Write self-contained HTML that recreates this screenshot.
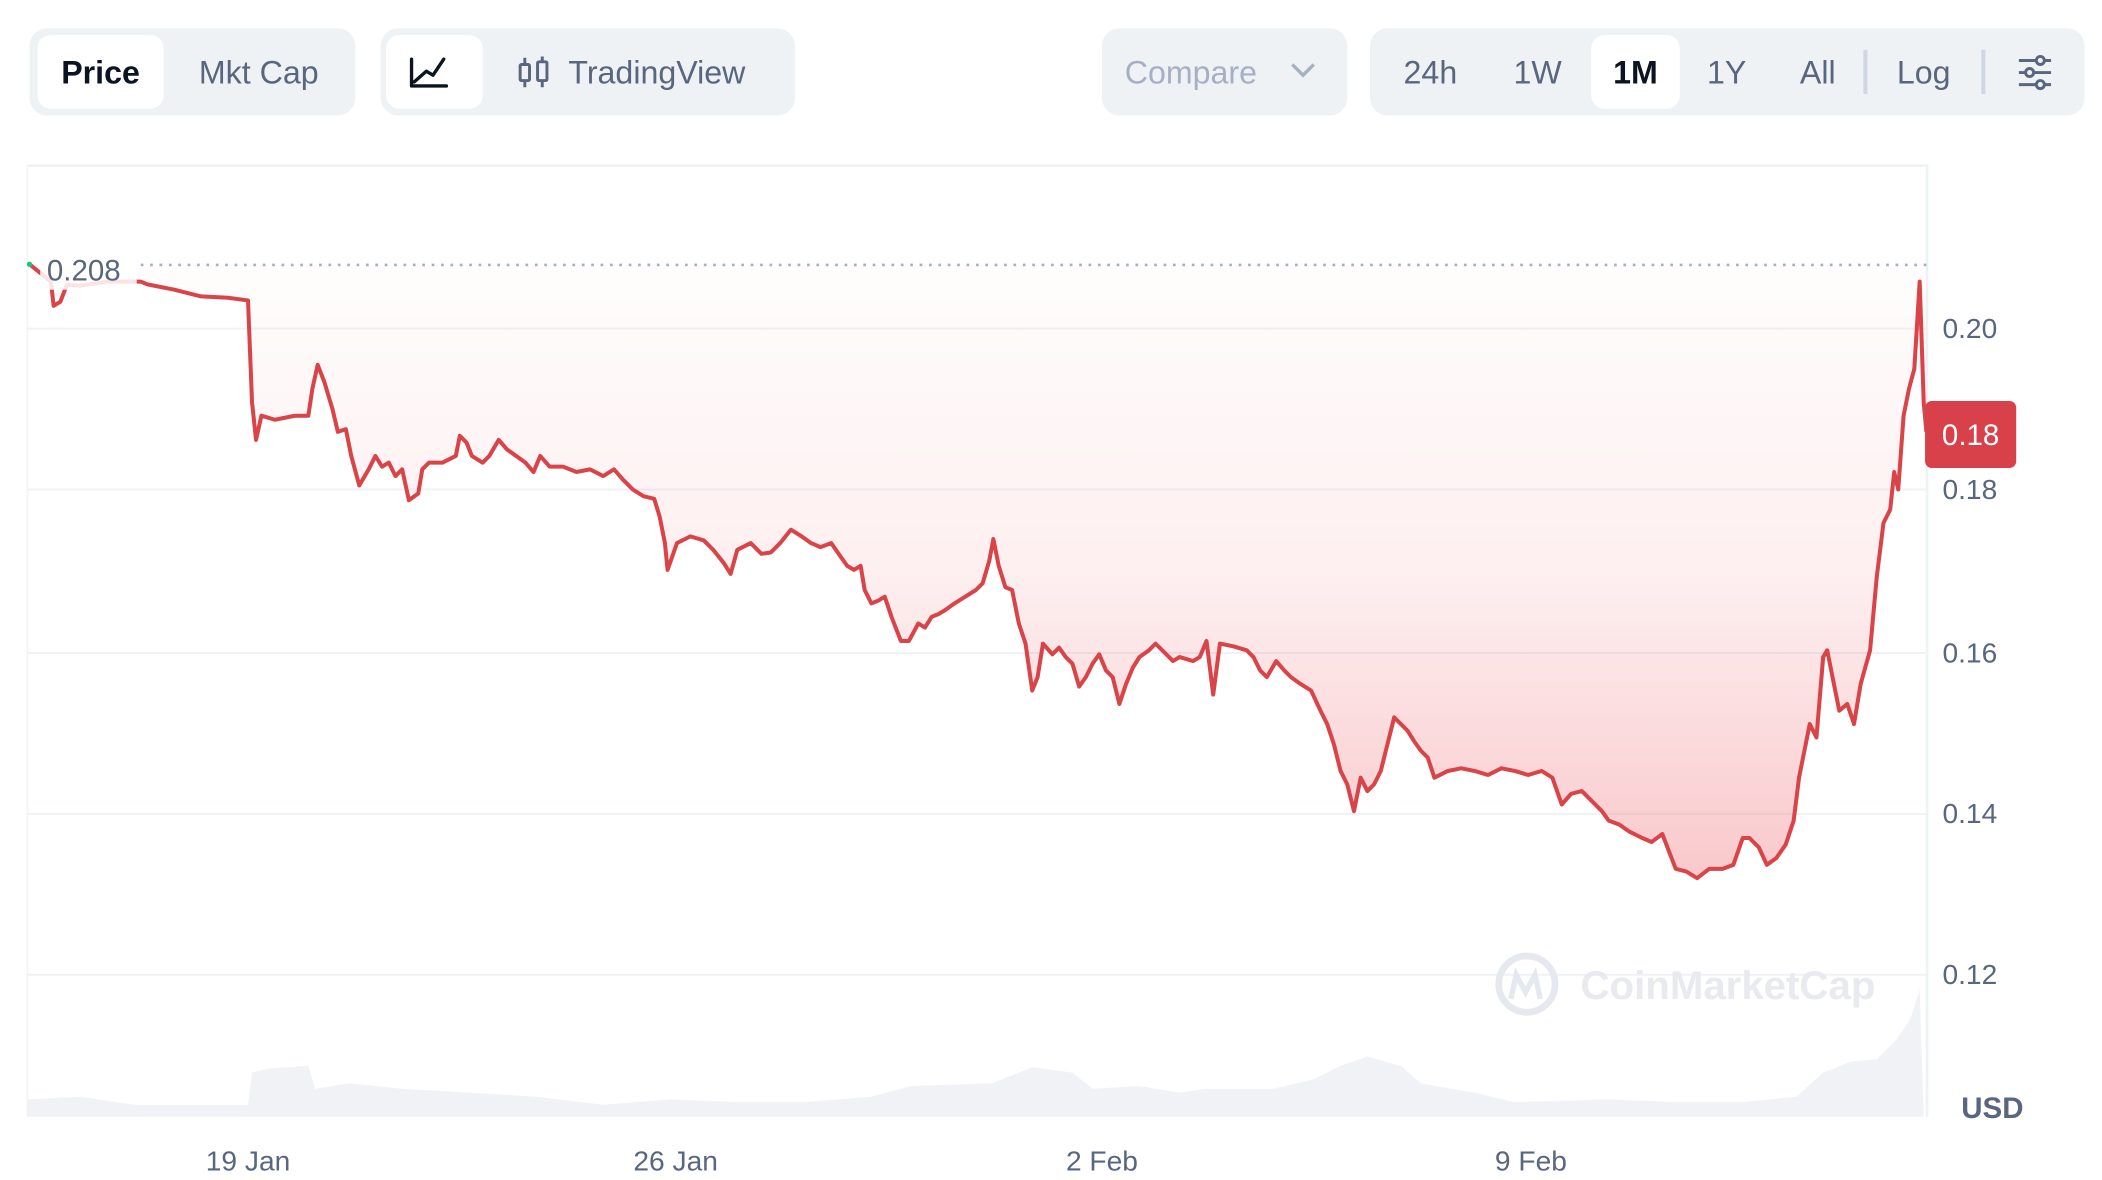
<!DOCTYPE html>
<html><head><meta charset="utf-8"><style>
html,body{margin:0;padding:0;background:#fff;}
svg{display:block;}
text{font-family:"Liberation Sans",sans-serif;}
</style></head><body>
<svg width="2102" height="1180" viewBox="0 0 1568 880" xmlns="http://www.w3.org/2000/svg">
<defs>
<linearGradient id="fill" gradientUnits="userSpaceOnUse" x1="0" y1="197" x2="0" y2="660">
<stop offset="0" stop-color="#ea3943" stop-opacity="0.01"/>
<stop offset="0.5" stop-color="#ea3943" stop-opacity="0.08"/>
<stop offset="1" stop-color="#ea3943" stop-opacity="0.28"/>
</linearGradient>
</defs>
<!-- controls -->
<rect x="22" y="21" width="243" height="65" rx="13" fill="#eff2f5"/>
<rect x="28" y="26" width="94" height="55" rx="10" fill="#fff"/>
<text x="75" y="62" font-size="24" font-weight="bold" fill="#0d1421" text-anchor="middle">Price</text>
<text x="193" y="62" font-size="24" fill="#58667e" text-anchor="middle">Mkt Cap</text>
<rect x="284" y="21" width="309" height="65" rx="13" fill="#eff2f5"/>
<rect x="288" y="26" width="72" height="55" rx="10" fill="#fff"/>
<path d="M307 44 V64 H333 M309 61 L318 53 L323 56 L331 44" stroke="#0d1421" stroke-width="2.5" fill="none" stroke-linecap="round" stroke-linejoin="round"/>
<g stroke="#58667e" stroke-width="2.2" fill="none"><rect x="388" y="48" width="7" height="12" rx="1"/><path d="M391.5 43v5M391.5 60v5"/><rect x="401" y="46" width="7" height="14" rx="1"/><path d="M404.5 42v4M404.5 60v5"/></g>
<text x="424" y="62" font-size="24" fill="#58667e">TradingView</text>
<rect x="822" y="21" width="183" height="65" rx="13" fill="#eff2f5"/>
<text x="839" y="62" font-size="24" fill="#a6b0c3">Compare</text>
<path d="M964 48 L972 56 L980 48" stroke="#a6b0c3" stroke-width="2.5" fill="none"/>
<rect x="1022" y="21" width="533" height="65" rx="13" fill="#eff2f5"/>
<rect x="1187" y="26" width="66" height="55" rx="10" fill="#fff"/>
<g font-size="24" fill="#58667e" text-anchor="middle">
<text x="1067" y="62">24h</text><text x="1147" y="62">1W</text>
<text x="1220" y="62" font-weight="bold" fill="#0d1421">1M</text>
<text x="1288" y="62">1Y</text><text x="1356" y="62">All</text><text x="1435" y="62">Log</text></g>
<rect x="1390" y="37" width="3" height="33" fill="#cfd6e4"/>
<rect x="1478" y="37" width="3" height="33" fill="#cfd6e4"/>
<g stroke="#58667e" stroke-width="2.2" fill="#eff2f5"><path d="M1506 45h24M1506 54h24M1506 63h24"/><circle cx="1522" cy="45" r="3"/><circle cx="1514" cy="54" r="3"/><circle cx="1522" cy="63" r="3"/></g>
<!-- frame -->
<path d="M20 123.5 H1437.5 V833" stroke="#eff2f5" stroke-width="2" fill="none"/>
<path d="M20.5 123 V833" stroke="#f4f5f7" stroke-width="1.5"/>
<g stroke="#eff2f5" stroke-width="1.5"><path d="M20 245H1437M20 365H1437M20 487H1437M20 607H1437M20 727H1437"/></g>
<g font-size="21" fill="#58667e"><text x="1449" y="252">0.20</text><text x="1449" y="372">0.18</text><text x="1449" y="494">0.16</text><text x="1449" y="614">0.14</text><text x="1449" y="734">0.12</text></g>
<text x="1463" y="834" font-size="22" font-weight="bold" fill="#58667e">USD</text>
<g font-size="21" fill="#58667e" text-anchor="middle"><text x="185" y="873">19 Jan</text><text x="504" y="873">26 Jan</text><text x="822" y="873">2 Feb</text><text x="1142" y="873">9 Feb</text></g>
<!-- volume -->
<path d="M20 833 L20 820 L60 818 L100 824 L150 824 L185 824 L188 800 L200 797 L230 795 L235 812 L260 808 L300 812 L350 815 L400 818 L450 824 L500 820 L550 822 L600 822 L650 818 L680 810 L740 808 L770 796 L800 800 L815 812 L850 810 L880 815 L900 812 L950 812 L980 805 L1000 795 L1020 788 L1045 795 L1060 808 L1100 815 L1130 822 L1200 820 L1250 822 L1300 822 L1340 818 L1360 800 L1380 792 L1400 790 L1415 775 L1425 760 L1432 738 L1435 833 Z" fill="#f1f2f5"/>
<!-- watermark -->
<circle cx="1139" cy="734" r="21" fill="none" stroke="#e6e8ef" stroke-width="5"/>
<path d="M1127 745 L1131 727 L1138 740 L1145 727 L1149 745" stroke="#e6e8ef" stroke-width="4" fill="none"/>
<text x="1179" y="745" font-size="30" font-weight="bold" fill="#e8eaf0">CoinMarketCap</text>
<!-- price -->
<path d="M22 197 L38 210 L40 228 L45 225 L50 212 L60 213 L80 210 L105 210 L110 212 L130 216 L150 221 L170 222 L185 224 L188 300 L191 328 L195 310 L205 313 L220 310 L230 310 L233 290 L237 272 L242 285 L248 305 L252 322 L258 320 L262 340 L268 362 L275 350 L280 340 L285 348 L290 345 L295 355 L300 350 L305 373 L312 368 L315 350 L320 345 L330 345 L340 340 L343 325 L348 330 L352 340 L360 345 L365 340 L372 328 L378 335 L385 340 L392 345 L398 352 L403 340 L410 348 L420 348 L430 352 L440 350 L450 355 L458 350 L465 358 L472 365 L480 370 L488 372 L492 385 L496 405 L498 425 L505 405 L515 400 L525 403 L532 410 L540 420 L545 428 L550 410 L560 405 L568 413 L575 412 L582 405 L590 395 L598 400 L605 405 L612 408 L620 405 L627 415 L632 422 L637 425 L642 422 L645 440 L650 450 L655 448 L660 445 L665 460 L672 478 L678 478 L685 465 L690 468 L695 460 L700 458 L705 455 L712 450 L720 445 L728 440 L733 435 L738 418 L741 402 L745 422 L750 438 L755 440 L760 465 L765 480 L770 515 L774 505 L778 480 L785 488 L790 483 L795 490 L800 495 L805 512 L810 505 L815 495 L820 488 L825 500 L830 505 L835 525 L840 510 L845 498 L850 490 L857 485 L862 480 L870 488 L875 493 L880 490 L890 493 L895 490 L900 478 L905 518 L910 480 L920 482 L930 485 L935 490 L940 500 L945 505 L952 493 L958 500 L963 505 L970 510 L978 515 L985 530 L990 540 L995 555 L1000 575 L1005 585 L1010 605 L1015 580 L1020 590 L1025 585 L1030 575 L1035 555 L1040 535 L1045 540 L1050 545 L1055 553 L1060 560 L1065 565 L1070 580 L1080 575 L1090 573 L1100 575 L1110 578 L1120 573 L1130 575 L1140 578 L1150 575 L1158 580 L1165 600 L1172 592 L1180 590 L1188 598 L1195 605 L1200 612 L1208 615 L1215 620 L1225 625 L1232 628 L1240 622 L1245 635 L1250 648 L1258 650 L1266 655 L1275 648 L1285 648 L1293 645 L1300 625 L1305 625 L1312 632 L1318 645 L1325 640 L1332 630 L1338 612 L1342 580 L1346 560 L1350 540 L1355 550 L1360 490 L1363 485 L1368 510 L1372 530 L1378 525 L1383 540 L1388 510 L1395 485 L1400 430 L1405 390 L1410 380 L1413 352 L1416 365 L1420 310 L1424 290 L1428 275 L1432 210 L1435 300 L1437 322 L1437 197 L22 197 Z" fill="url(#fill)"/>
<path id="p" d="M22 197 L38 210 L40 228 L45 225 L50 212 L60 213 L80 210 L105 210 L110 212 L130 216 L150 221 L170 222 L185 224 L188 300 L191 328 L195 310 L205 313 L220 310 L230 310 L233 290 L237 272 L242 285 L248 305 L252 322 L258 320 L262 340 L268 362 L275 350 L280 340 L285 348 L290 345 L295 355 L300 350 L305 373 L312 368 L315 350 L320 345 L330 345 L340 340 L343 325 L348 330 L352 340 L360 345 L365 340 L372 328 L378 335 L385 340 L392 345 L398 352 L403 340 L410 348 L420 348 L430 352 L440 350 L450 355 L458 350 L465 358 L472 365 L480 370 L488 372 L492 385 L496 405 L498 425 L505 405 L515 400 L525 403 L532 410 L540 420 L545 428 L550 410 L560 405 L568 413 L575 412 L582 405 L590 395 L598 400 L605 405 L612 408 L620 405 L627 415 L632 422 L637 425 L642 422 L645 440 L650 450 L655 448 L660 445 L665 460 L672 478 L678 478 L685 465 L690 468 L695 460 L700 458 L705 455 L712 450 L720 445 L728 440 L733 435 L738 418 L741 402 L745 422 L750 438 L755 440 L760 465 L765 480 L770 515 L774 505 L778 480 L785 488 L790 483 L795 490 L800 495 L805 512 L810 505 L815 495 L820 488 L825 500 L830 505 L835 525 L840 510 L845 498 L850 490 L857 485 L862 480 L870 488 L875 493 L880 490 L890 493 L895 490 L900 478 L905 518 L910 480 L920 482 L930 485 L935 490 L940 500 L945 505 L952 493 L958 500 L963 505 L970 510 L978 515 L985 530 L990 540 L995 555 L1000 575 L1005 585 L1010 605 L1015 580 L1020 590 L1025 585 L1030 575 L1035 555 L1040 535 L1045 540 L1050 545 L1055 553 L1060 560 L1065 565 L1070 580 L1080 575 L1090 573 L1100 575 L1110 578 L1120 573 L1130 575 L1140 578 L1150 575 L1158 580 L1165 600 L1172 592 L1180 590 L1188 598 L1195 605 L1200 612 L1208 615 L1215 620 L1225 625 L1232 628 L1240 622 L1245 635 L1250 648 L1258 650 L1266 655 L1275 648 L1285 648 L1293 645 L1300 625 L1305 625 L1312 632 L1318 645 L1325 640 L1332 630 L1338 612 L1342 580 L1346 560 L1350 540 L1355 550 L1360 490 L1363 485 L1368 510 L1372 530 L1378 525 L1383 540 L1388 510 L1395 485 L1400 430 L1405 390 L1410 380 L1413 352 L1416 365 L1420 310 L1424 290 L1428 275 L1432 210 L1435 300 L1437 322" fill="none" stroke="#d94449" stroke-width="3" stroke-linejoin="round"/>
<!-- ref line + label -->
<path d="M105 197.5 H1437" stroke="#a6b0c3" stroke-width="2" stroke-dasharray="2 5"/>
<rect x="30" y="186" width="72" height="30" fill="#fff" opacity="0.85"/>
<text x="35" y="209" font-size="22" fill="#58667e">0.208</text>
<circle cx="22" cy="197" r="2" fill="#16c784"/>
<rect x="1436" y="299" width="68" height="50" rx="5" fill="#d9414a"/>
<text x="1470" y="332" font-size="22" fill="#fff" text-anchor="middle">0.18</text>
</svg>
</body></html>
